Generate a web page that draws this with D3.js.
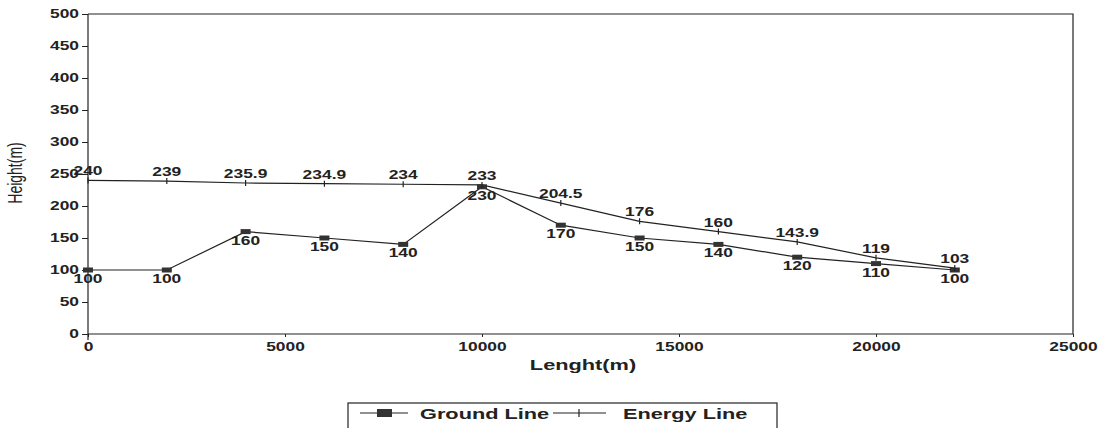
<!DOCTYPE html>
<html>
<head>
<meta charset="utf-8">
<script src="https://cdn.jsdelivr.net/npm/d3@7"></script>
<style>
  html, body { margin: 0; padding: 0; background: #fff; }
  svg { display: block; }
</style>
</head>
<body>
<svg id="chart" width="1106" height="428"></svg>
<script>
// ---- data ----
const lengths = [0, 2000, 4000, 6000, 8000, 10000, 12000, 14000, 16000, 18000, 20000, 22000];
const groundLine = [100, 100, 160, 150, 140, 230, 170, 150, 140, 120, 110, 100];
const energyLine = [240, 239, 235.9, 234.9, 234, 233, 204.5, 176, 160, 143.9, 119, 103];
const xTicks = [0, 5000, 10000, 15000, 20000, 25000];
const yTicks = [0, 50, 100, 150, 200, 250, 300, 350, 400, 450, 500];
const seriesNames = ["Ground Line", "Energy Line"];
const axisTitles = { x: "Lenght(m)", y: "Height(m)" };

// ---- drawing ----
const SX = 1.45; // horizontal stretch of the scanned text
const FONT = "'Liberation Sans', Arial, sans-serif";
const INK = "#222";
const svg = d3.select("#chart");

const x = d3.scaleLinear().domain([0, 25000]).range([88, 1073]);
const y = d3.scaleLinear().domain([0, 500]).range([334, 14]);

function stretch(sel) {
  sel.each(function () {
    const t = d3.select(this);
    const tx = +t.attr("x") || 0;
    t.attr("x", tx / SX).attr("transform", `scale(${SX},1)`);
  });
}

// frame (top & right)
svg.append("path")
  .attr("d", `M${x(0)},${y(500)}H${x(25000)}V${y(0)}`)
  .attr("fill", "none").attr("stroke", INK).attr("stroke-width", 1.2);

// y axis
const gy = svg.append("g").attr("transform", `translate(${x(0)},0)`)
  .call(d3.axisLeft(y).tickValues(yTicks).tickSize(6).tickPadding(3).tickFormat(d3.format("d")));
gy.select(".domain").attr("stroke", INK).attr("stroke-width", 1.2)
  .attr("d", `M0,${y(500)}V${y(0) + 6}`);
gy.selectAll(".tick line").attr("stroke", INK);
gy.selectAll(".tick text").attr("font-family", FONT).attr("font-weight", "bold")
  .attr("font-size", 12).attr("fill", INK).call(stretch);

// x axis
const gx = svg.append("g").attr("transform", `translate(0,${y(0)})`)
  .call(d3.axisBottom(x).tickValues(xTicks).tickSize(3).tickPadding(5).tickFormat(d3.format("d")));
gx.select(".domain").attr("stroke", INK).attr("stroke-width", 1.2)
  .attr("d", `M${x(0)},0H${x(25000)}`);
gx.selectAll(".tick line").attr("stroke", INK);
gx.selectAll(".tick text").attr("font-family", FONT).attr("font-weight", "bold")
  .attr("font-size", 12).attr("fill", INK).call(stretch);

// axis titles
svg.append("text").attr("x", 583).attr("y", 370)
  .attr("text-anchor", "middle").attr("font-family", FONT).attr("font-weight", "bold")
  .attr("font-size", 15).attr("fill", INK).text(axisTitles.x).call(stretch);

svg.append("text")
  .attr("transform", `translate(22,173) rotate(-90) scale(1,${SX})`)
  .attr("text-anchor", "middle").attr("font-family", FONT)
  .attr("font-size", 14).attr("fill", INK).text(axisTitles.y);

// lines
const groundData = lengths.map((l, i) => ({ l, v: groundLine[i] }));
const energyData = lengths.map((l, i) => ({ l, v: energyLine[i] }));
const line = d3.line().x(d => x(d.l)).y(d => y(d.v));

svg.append("path").datum(energyData).attr("d", line)
  .attr("fill", "none").attr("stroke", INK).attr("stroke-width", 1.2);
svg.append("path").datum(groundData).attr("d", line)
  .attr("fill", "none").attr("stroke", INK).attr("stroke-width", 1.2);

// markers
svg.selectAll(".gmark").data(groundData).enter().append("rect")
  .attr("x", d => x(d.l) - 5).attr("y", d => y(d.v) - 2.5)
  .attr("width", 10).attr("height", 5).attr("fill", "#333");
svg.selectAll(".emark").data(energyData).enter().append("line")
  .attr("x1", d => x(d.l)).attr("x2", d => x(d.l))
  .attr("y1", d => y(d.v) - 3).attr("y2", d => y(d.v) + 3)
  .attr("stroke", INK).attr("stroke-width", 1.2);

// value labels
svg.selectAll(".elab").data(energyData).enter().append("text")
  .attr("x", d => x(d.l)).attr("y", d => y(d.v) - 5)
  .attr("text-anchor", "middle").attr("font-family", FONT).attr("font-weight", "bold")
  .attr("font-size", 12).attr("fill", INK).text(d => d.v).call(stretch);
svg.selectAll(".glab").data(groundData).enter().append("text")
  .attr("x", d => x(d.l)).attr("y", d => y(d.v) + 13)
  .attr("text-anchor", "middle").attr("font-family", FONT).attr("font-weight", "bold")
  .attr("font-size", 12).attr("fill", INK).text(d => d.v).call(stretch);

// legend
const lg = svg.append("g");
lg.append("rect").attr("x", 348).attr("y", 403).attr("width", 429).attr("height", 40)
  .attr("fill", "#fff").attr("stroke", INK).attr("stroke-width", 1.2);
lg.append("line").attr("x1", 360).attr("x2", 408).attr("y1", 413).attr("y2", 413)
  .attr("stroke", INK).attr("stroke-width", 1.2);
lg.append("rect").attr("x", 377).attr("y", 409).attr("width", 15).attr("height", 8).attr("fill", "#333");
lg.append("text").attr("x", 420).attr("y", 419).attr("font-family", FONT).attr("font-weight", "bold")
  .attr("font-size", 15).attr("fill", INK).text(seriesNames[0]).call(stretch);
lg.append("line").attr("x1", 553).attr("x2", 606).attr("y1", 413).attr("y2", 413)
  .attr("stroke", INK).attr("stroke-width", 1.2);
lg.append("line").attr("x1", 579).attr("x2", 579).attr("y1", 409).attr("y2", 417)
  .attr("stroke", INK).attr("stroke-width", 1.2);
lg.append("text").attr("x", 623).attr("y", 419).attr("font-family", FONT).attr("font-weight", "bold")
  .attr("font-size", 15).attr("fill", INK).text(seriesNames[1]).call(stretch);
</script>
</body>
</html>
